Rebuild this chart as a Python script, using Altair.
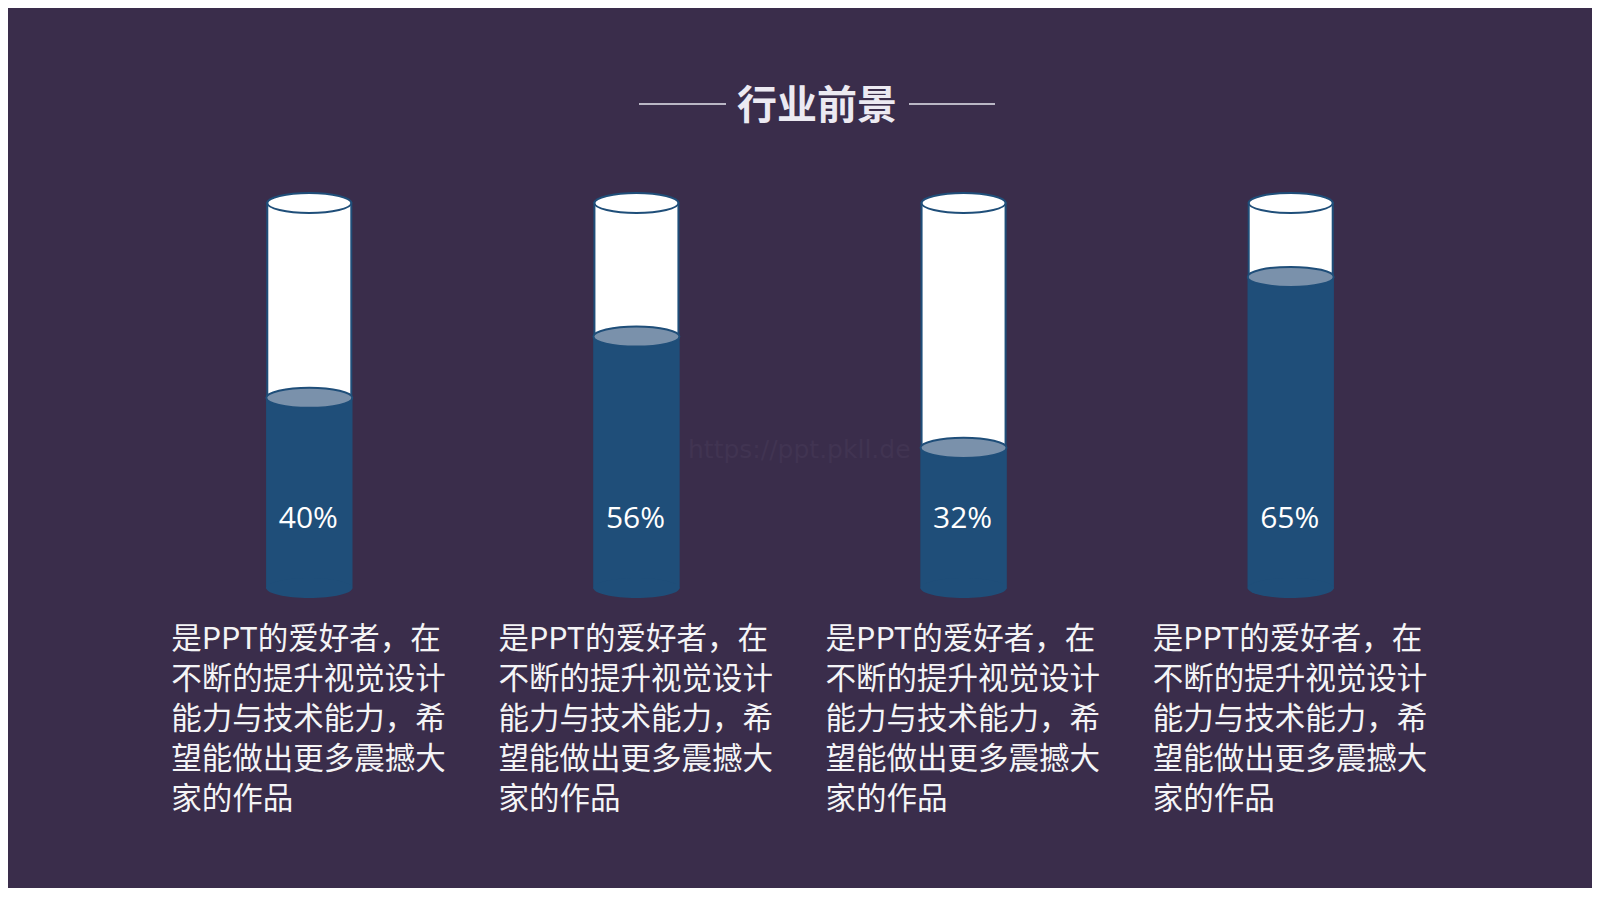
import altair as alt
import pandas as pd

# ---- data ----
categories = ["A", "B", "C", "D"]
labels = ["40%", "56%", "32%", "65%"]
# fill height of each tube (0 = bottom, 100 = rim)
levels = [49.4, 65.3, 36.4, 80.8]
desc_lines = ["是PPT的爱好者，在", "不断的提升视觉设计", "能力与技术能力，希", "望能做出更多震撼大", "家的作品"]
title_text = "行业前景"
watermark = "https://ppt.pkll.de"

df = pd.DataFrame({
    "cat": categories,
    "label": labels,
    "level": levels,
    "bottom": [0] * 4,
    "top": [100] * 4,
    "desc": [desc_lines] * 4,
})

BG = "#3a2d4b"
BLUE = "#1f4e79"
LIGHT = "#7a91ab"
CJK = "Noto Sans CJK SC"

x = alt.X("cat:N", scale=alt.Scale(type="point", padding=0.921), axis=None)
yscale = alt.Scale(domain=[-77.922, 150.649], nice=False, zero=False)

def Y(f):
    return alt.Y(f, type="quantitative", scale=yscale, axis=None)

ell = "M-1,0 A1,0.238 0 1,1 1,0 A1,0.238 0 1,1 -1,0 Z"
ell2 = "M-1,0 A1,0.233 0 1,1 1,0 A1,0.233 0 1,1 -1,0 Z"

base = alt.Chart(df)

wm = alt.Chart(pd.DataFrame({"t": [watermark]})).mark_text(
    font="DejaVu Sans", fontSize=25, color="#413452", align="left", baseline="alphabetic"
).encode(text="t:N", x=alt.value(680), y=alt.value(450))

glass = base.mark_bar(size=84, fill="white", stroke=BLUE, strokeWidth=2).encode(
    x=x, y=Y("bottom"), y2="top:Q")
glass_top = base.mark_point(shape=ell, size=84 * 84, filled=True, fill="white",
                            stroke=BLUE, strokeWidth=2, opacity=1).encode(x=x, y=Y("top"))
liquid = base.mark_bar(size=86, fill=BLUE).encode(x=x, y=Y("bottom"), y2="level:Q")
liquid_bottom = base.mark_point(shape=ell2, size=86 * 86, filled=True, fill=BLUE,
                                opacity=1, strokeWidth=0).encode(x=x, y=Y("bottom"))
liquid_top = base.mark_point(shape=ell2, size=86 * 86, filled=True, fill=LIGHT,
                             stroke=BLUE, strokeWidth=2, opacity=1).encode(x=x, y=Y("level"))

pct = base.mark_text(font="Open Sans", fontSize=30, color="white", align="center",
                     baseline="alphabetic", dx=-1).encode(x=x, y=alt.value(520), text="label:N")

desc = base.mark_text(font=CJK, fontSize=30.5, color="#f4f4f6", align="left",
                      baseline="alphabetic", lineHeight=40, dx=-138).encode(
    x=x, y=alt.value(641), text="desc")

title = alt.Chart(pd.DataFrame({"t": [title_text]})).mark_text(
    font=CJK, fontSize=40, fontWeight="bold", color="#eceaf2", align="center",
    baseline="alphabetic").encode(text="t:N", x=alt.value(809), y=alt.value(111))

rule_l = alt.Chart(pd.DataFrame({"t": [0]})).mark_rule(color="#e6e6ee", strokeWidth=1.5).encode(
    x=alt.value(631), x2=alt.value(718), y=alt.value(96))
rule_r = alt.Chart(pd.DataFrame({"t": [0]})).mark_rule(color="#e6e6ee", strokeWidth=1.5).encode(
    x=alt.value(901), x2=alt.value(987), y=alt.value(96))

chart = alt.layer(
    wm, glass, glass_top, liquid, liquid_bottom, liquid_top, pct, desc, title, rule_l, rule_r
).properties(
    width=1584, height=880, padding=0, background=BG,
    autosize=alt.AutoSizeParams(type="fit", contains="padding"),
).configure_view(stroke=None)

chart.save("out.html", embed_options={"renderer": "svg", "actions": False})
